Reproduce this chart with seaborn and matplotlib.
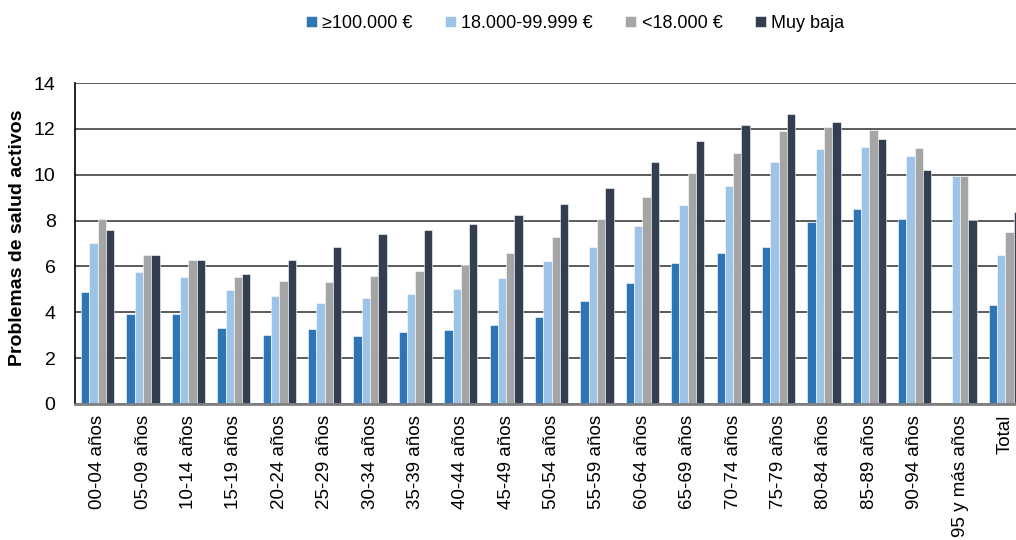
import numpy as np
import pandas as pd
import matplotlib
matplotlib.use("Agg")
import matplotlib.pyplot as plt
import seaborn as sns

# Age groups and income levels
grupos = ["00-04 años", "05-09 años", "10-14 años", "15-19 años", "20-24 años",
          "25-29 años", "30-34 años", "35-39 años", "40-44 años", "45-49 años",
          "50-54 años", "55-59 años", "60-64 años", "65-69 años", "70-74 años",
          "75-79 años", "80-84 años", "85-89 años", "90-94 años", "95 y más años",
          "Total"]
rentas = ["≥100.000 €", "18.000-99.999 €", "<18.000 €", "Muy baja"]

# Values
renta_alta = [4.88, 3.94, 3.94, 3.33, 3.00, 3.25, 2.96, 3.14, 3.22, 3.45,
              3.81, 4.51, 5.29, 6.14, 6.58, 6.84, 7.96, 8.52, 8.06, np.nan, 4.33]
renta_media = [7.02, 5.77, 5.54, 4.97, 4.72, 4.39, 4.62, 4.80, 5.00, 5.49,
               6.23, 6.84, 7.78, 8.68, 9.49, 10.57, 11.13, 11.20, 10.81, 9.95, 6.48]
renta_baja = [8.05, 6.49, 6.29, 5.54, 5.36, 5.32, 5.58, 5.78, 6.06, 6.59,
              7.30, 8.09, 9.04, 10.07, 10.97, 11.91, 12.09, 11.96, 11.19, 9.95, 7.49]
renta_muy_baja = [7.61, 6.48, 6.29, 5.67, 6.29, 6.84, 7.41, 7.57, 7.84, 8.25,
                  8.74, 9.43, 10.57, 11.48, 12.17, 12.65, 12.30, 11.58, 10.20, 8.02, 8.38]

colores = ["#2E75B6", "#9DC3E6", "#A5A5A5", "#333F50"]

df = pd.DataFrame({
    "grupo": grupos * 4,
    "renta": np.repeat(rentas, len(grupos)),
    "valor": renta_alta + renta_media + renta_baja + renta_muy_baja,
})

sns.set_style("white")
plt.rcParams["font.family"] = ["Liberation Sans", "DejaVu Sans"]
plt.rcParams["text.color"] = "black"
plt.rcParams["axes.labelcolor"] = "black"
plt.rcParams["xtick.color"] = "black"
plt.rcParams["ytick.color"] = "black"

fig = plt.figure(figsize=(10.16, 5.4), dpi=100)
ax = fig.add_axes([0.0738, 0.252, 0.9382, 0.594])

sns.barplot(data=df, x="grupo", y="valor", hue="renta", order=grupos,
            hue_order=rentas, palette=colores, width=0.73, saturation=1,
            edgecolor="white", linewidth=0.4, ax=ax, legend=True)

ax.set_ylim(0, 14)
ax.set_yticks(range(0, 15, 2))
ax.set_xlim(-0.5, len(grupos) - 0.5)
ax.yaxis.grid(True, color="#404040", linewidth=1.2)
ax.set_axisbelow(True)
ax.set_xlabel("")
ax.set_ylabel("Problemas de salud activos", fontsize=14, fontweight="bold")
ax.yaxis.set_label_coords(-0.0514, 0.519)
ax.tick_params(axis="y", length=0, pad=14, labelsize=14)
ax.tick_params(axis="x", length=0, pad=8, labelsize=13.5)
for lab in ax.get_xticklabels():
    lab.set_rotation(90)
    lab.set_va("top")
for lab in ax.get_yticklabels():
    lab.set_ha("right")

for side in ["top", "right"]:
    ax.spines[side].set_visible(False)
ax.spines["left"].set_color("black")
ax.spines["left"].set_linewidth(1.2)
ax.spines["bottom"].set_color("#808080")
ax.spines["bottom"].set_linewidth(2)

handles, labels = ax.get_legend_handles_labels()
ax.get_legend().remove()
fig.legend(handles, labels, loc="upper center", bbox_to_anchor=(0.566, 1.003),
           ncol=4, frameon=False, fontsize=13, handlelength=0.6,
           handleheight=0.6, handletextpad=0.3, columnspacing=1.8)

fig.savefig("out.png", dpi=100)
